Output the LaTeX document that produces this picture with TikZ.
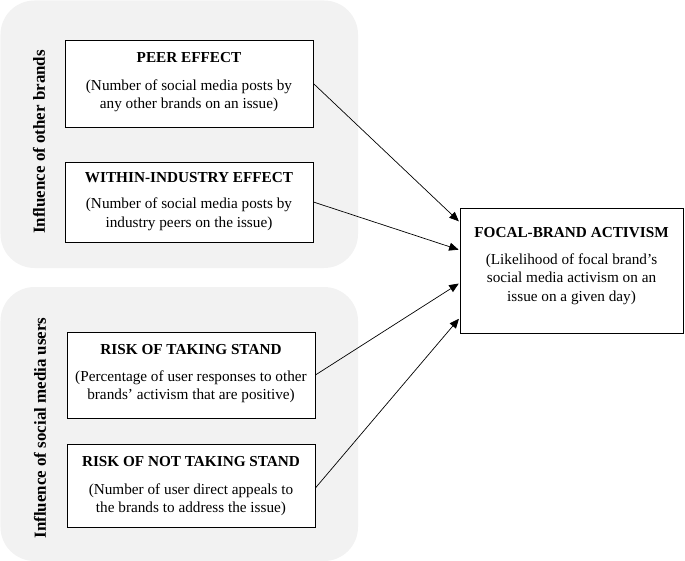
\documentclass[tikz,border=0pt]{standalone}
\usepackage{fontspec}
\setmainfont{Liberation Serif}
\usetikzlibrary{arrows.meta,calc}
\definecolor{panelgrey}{HTML}{F2F2F2}
\tikzset{
  panel/.style={fill=panelgrey, draw=none, rounded corners=34bp},
  varbox/.style={draw=black, line width=0.8pt, fill=white, inner sep=0pt},
  vartext/.style={align=center, inner sep=0pt, font=\fontsize{15.3}{18.5}\selectfont},
  sidelabel/.style={rotate=90, font=\fontsize{17}{20}\selectfont\bfseries},
  link/.style={-{Triangle[length=9.5bp,width=8bp]}, line width=0.7pt, shorten >=1bp},
}
\begin{document}
\begin{tikzpicture}[x=1bp,y=-1bp]
\useasboundingbox (0,0) rectangle (685,561);
\path[panel] (0.5,0.5) rectangle (358,268);
\path[panel] (0.5,287) rectangle (358,561);
\node[sidelabel] (lab1) at (39,142) {Influence of other brands};
\node[sidelabel] (lab2) at (40,428) {Influence of social media users};
\node[varbox, minimum width=248bp, minimum height=87bp] (peer) at (189,83.5) {};
\node[vartext] (peertext) at (189,82.5)
  {\textbf{PEER EFFECT}\\[9bp](Number of social media posts by\\any other brands on an issue)};
\node[varbox, minimum width=248bp, minimum height=80bp] (within) at (189,202) {};
\node[vartext] (withintext) at (189,201.5)
  {\textbf{WITHIN-INDUSTRY EFFECT}\\[8bp](Number of social media posts by\\industry peers on the issue)};
\node[varbox, minimum width=248bp, minimum height=86bp] (risk) at (191,375) {};
\node[vartext] (risktext) at (191,374)
  {\textbf{RISK OF TAKING STAND}\\[8bp](Percentage of user responses to other\\brands’ activism that are positive)};
\node[varbox, minimum width=248bp, minimum height=83bp] (norisk) at (191,485.5) {};
\node[vartext] (norisktext) at (191,486.5)
  {\textbf{RISK OF NOT TAKING STAND}\\[9bp](Number of user direct appeals to\\the brands to address the issue)};
\node[varbox, minimum width=223bp, minimum height=125bp] (focal) at (571.5,270.5) {};
\node[vartext] (focaltext) at (571.5,266)
  {\textbf{FOCAL-BRAND ACTIVISM}\\[8bp](Likelihood of focal brand’s\\social media activism on an\\issue on a given day)};
\draw[link] (peer.east) -- ($(focal.west)+(0,-48.5)$);
\draw[link] (within.east) -- ($(focal.west)+(0,-20.5)$);
\draw[link] (risk.east) -- ($(focal.west)+(0,12.5)$);
\draw[link] ($(norisk.east)+(0,2.5)$) -- ($(focal.west)+(0,47.5)$);
\end{tikzpicture}
\end{document}
